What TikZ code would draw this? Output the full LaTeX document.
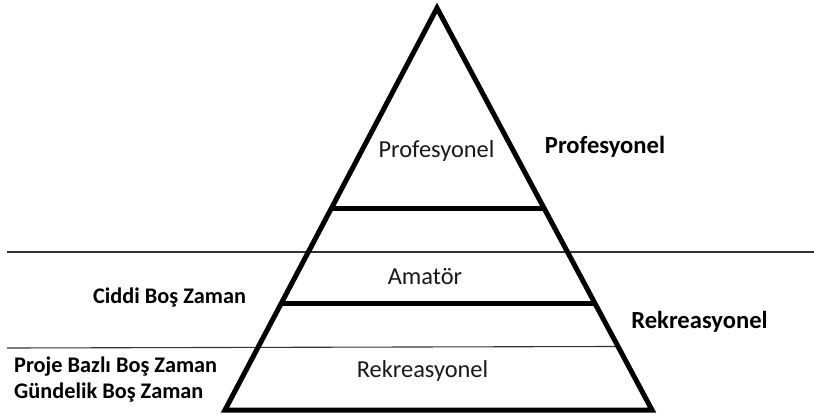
\documentclass[tikz,border=0pt]{standalone}
\usepackage{fontspec}
\setmainfont{Carlito}
\usetikzlibrary{calc}
\tikzset{
  thick edge/.style={line width=5pt, black, line join=miter},
  thin rule/.style={line width=1.1pt, black!80},
  inner label/.style={font=\fontsize{24.4}{28}\selectfont, text=black!90, inner sep=0pt, anchor=base},
  side label/.style={font=\fontsize{24.6}{28}\selectfont\bfseries, inner sep=0pt, anchor=base},
  left label/.style={font=\fontsize{22.3}{26}\selectfont\bfseries, inner sep=0pt, anchor=base west},
}
\begin{document}
\begin{tikzpicture}[x=1pt,y=-1pt]
\useasboundingbox (0,0) rectangle (814,416);
\fill[white] (0,0) rectangle (814,416);
\coordinate (apex) at (437,8);
\coordinate (bl) at (225,410);
\coordinate (br) at (652,410);
% thin rules
\coordinate (r1w) at (7,252);
\coordinate (r1e) at (814,252);
\coordinate (r2w) at (7,348);
\coordinate (r2e) at ($(apex)!0.842!(br)$);
\draw[thin rule] (r1w) -- (r1e);
\draw[thin rule] (r2w) -- (r2e);
% bars
\coordinate (b1w) at ($(apex)!0.4975!(bl)$);
\coordinate (b1e) at ($(apex)!0.4975!(br)$);
\coordinate (b2w) at ($(apex)!0.735!(bl)$);
\coordinate (b2e) at ($(apex)!0.735!(br)$);
\draw[thick edge] (b1w) -- (b1e);
\draw[thick edge] (b2w) -- (b2e);
% triangle
\draw[thick edge] (apex) -- (bl) -- (br) -- cycle;
% labels
\node[inner label] (lprof) at (436.5,157) {Profesyonel};
\node[inner label] (lamat) at (425,284) {Amatör};
\node[inner label] (lrek) at (422.5,377) {Rekreasyonel};
\node[side label] (sprof) at (605,153) {Profesyonel};
\node[side label] (srek) at (699.5,328) {Rekreasyonel};
\node[left label] (ciddi) at (93,303) {Ciddi Boş Zaman};
\node[left label] (proje) at (14,372) {Proje Bazlı Boş Zaman};
\node[left label] (gund) at (14,398) {Gündelik Boş Zaman};
\end{tikzpicture}
\end{document}
